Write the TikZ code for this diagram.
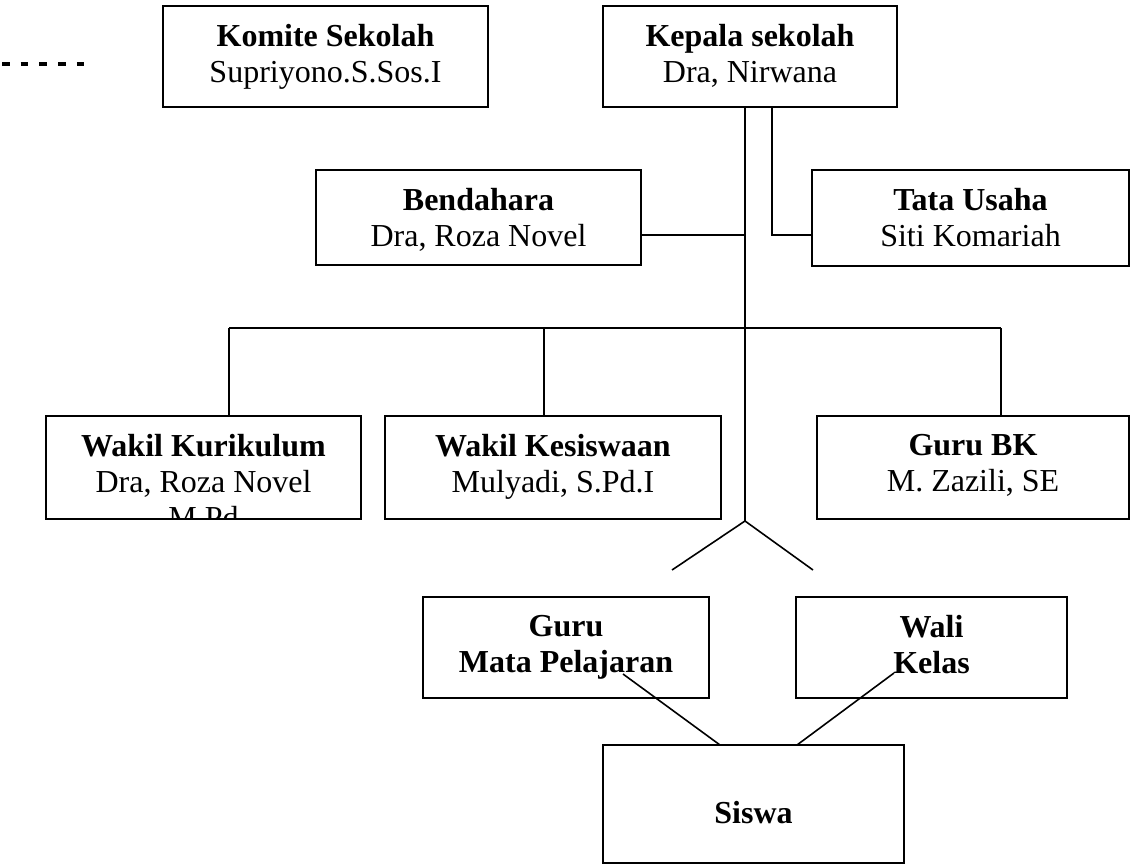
\documentclass[tikz,border=0pt]{standalone}
\usepackage{fontspec}
\setmainfont{Liberation Serif}
\usetikzlibrary{positioning}
\usetikzlibrary{calc}

\begin{document}
\begin{tikzpicture}[
        x=1pt,
        y=-1pt,
        unit/.style={
            draw,
            line width=1.6pt,
            inner sep=0pt,
        },
        caption/.style={
            anchor=north,
            inner sep=0pt,
            align=center,
            font=\fontsize{32}{36}\selectfont,
            execute at begin node=\strut,
        },
        link/.style={
            line width=1.6pt,
        },
        legend/.style={
            line width=3.5pt,
            dash pattern=on 7.5pt off 11.2pt,
        },
    ]
    \useasboundingbox (0,0) rectangle (1131,867);

    % Define units.
    \node[unit, minimum width=325pt, minimum height=101pt] (komite) at (325.5,56.5) {};
    \node[unit, minimum width=294pt, minimum height=101pt] (kepala) at (750,56.5) {};
    \node[unit, minimum width=325pt, minimum height=95pt] (bendahara) at (478.5,217.5) {};
    \node[unit, minimum width=317pt, minimum height=96pt] (tata) at (970.5,218) {};
    \node[unit, minimum width=315pt, minimum height=103pt] (wkur) at (203.5,467.5) {};
    \node[unit, minimum width=336pt, minimum height=103pt] (wkes) at (553,467.5) {};
    \node[unit, minimum width=312pt, minimum height=103pt] (gurubk) at (973,467.5) {};
    \node[unit, minimum width=286pt, minimum height=101pt] (gurump) at (566,647.5) {};
    \node[unit, minimum width=271pt, minimum height=101pt] (wali) at (931.5,647.5) {};
    \node[unit, minimum width=301pt, minimum height=118pt] (siswa) at (753.5,804) {};

    % Write names.
    \node[caption] (komite-t) at ([yshift=-18.5pt]komite.north) {\textbf{Komite Sekolah}\\Supriyono.S.Sos.I};
    \node[caption] (kepala-t) at ([yshift=-18.5pt]kepala.north) {\textbf{Kepala sekolah}\\Dra, Nirwana};
    \node[caption] (bendahara-t) at ([yshift=-18.5pt]bendahara.north) {\textbf{Bendahara}\\Dra, Roza Novel};
    \node[caption] (tata-t) at ([yshift=-18.5pt]tata.north) {\textbf{Tata Usaha}\\Siti Komariah};
    \begin{scope}
        \clip (wkur.south west) rectangle (wkur.north east);
        \node[caption] (wkur-t) at ([yshift=-18.5pt]wkur.north) {\textbf{Wakil Kurikulum}\\Dra, Roza Novel\\M.Pd};
    \end{scope}
    \node[caption] (wkes-t) at ([yshift=-18.5pt]wkes.north) {\textbf{Wakil Kesiswaan}\\Mulyadi, S.Pd.I};
    \node[caption] (gurubk-t) at ([yshift=-18.5pt]gurubk.north) {\textbf{Guru BK}\\M. Zazili, SE};
    \node[caption] (gurump-t) at ([yshift=-18.5pt]gurump.north) {\textbf{Guru}\\\textbf{Mata Pelajaran}};
    \node[caption] (wali-t) at ([yshift=-18.5pt]wali.north) {\textbf{Wali}\\\textbf{Kelas}};
    \node[caption] (siswa-t) at ([yshift=-53.5pt]siswa.north) {\textbf{Siswa}};

    % Define junctions.
    \coordinate (hub) at (745,521);
    \coordinate (bj) at (745,235);
    \coordinate (tj) at (772,235);
    \coordinate (busl) at (229,328);
    \coordinate (busm) at (544,328);
    \coordinate (busr) at (1001,328);
    \coordinate (forkl) at (672,570);
    \coordinate (forkr) at (813,570);
    \coordinate (mpj) at (623,674);
    \coordinate (wkj) at (894,673);
    \coordinate (sl) at (720,745);
    \coordinate (sr) at (797,745);

    % Draw lines.
    \draw[link] (kepala.south -| hub) to (hub);
    \draw[link] (kepala.south -| tj) to (tj) to (tata.west |- tj);
    \draw[link] (bendahara.east |- bj) to (bj);

    \draw[link] (busl) to (busr);
    \draw[link] (busl) to (wkur.north -| busl);
    \draw[link] (busm) to (wkes.north -| busm);
    \draw[link] (busr) to (gurubk.north -| busr);

    \draw[link] (forkl) to (hub) to (forkr);

    \draw[link] (mpj) to (sl);
    \draw[link] (wkj) to (sr);

    % Draw legend.
    \coordinate (dasha) at (2,64);
    \coordinate (dashb) at (85,64);
    \draw[legend] (dasha) to (dashb);

\end{tikzpicture}
\end{document}
